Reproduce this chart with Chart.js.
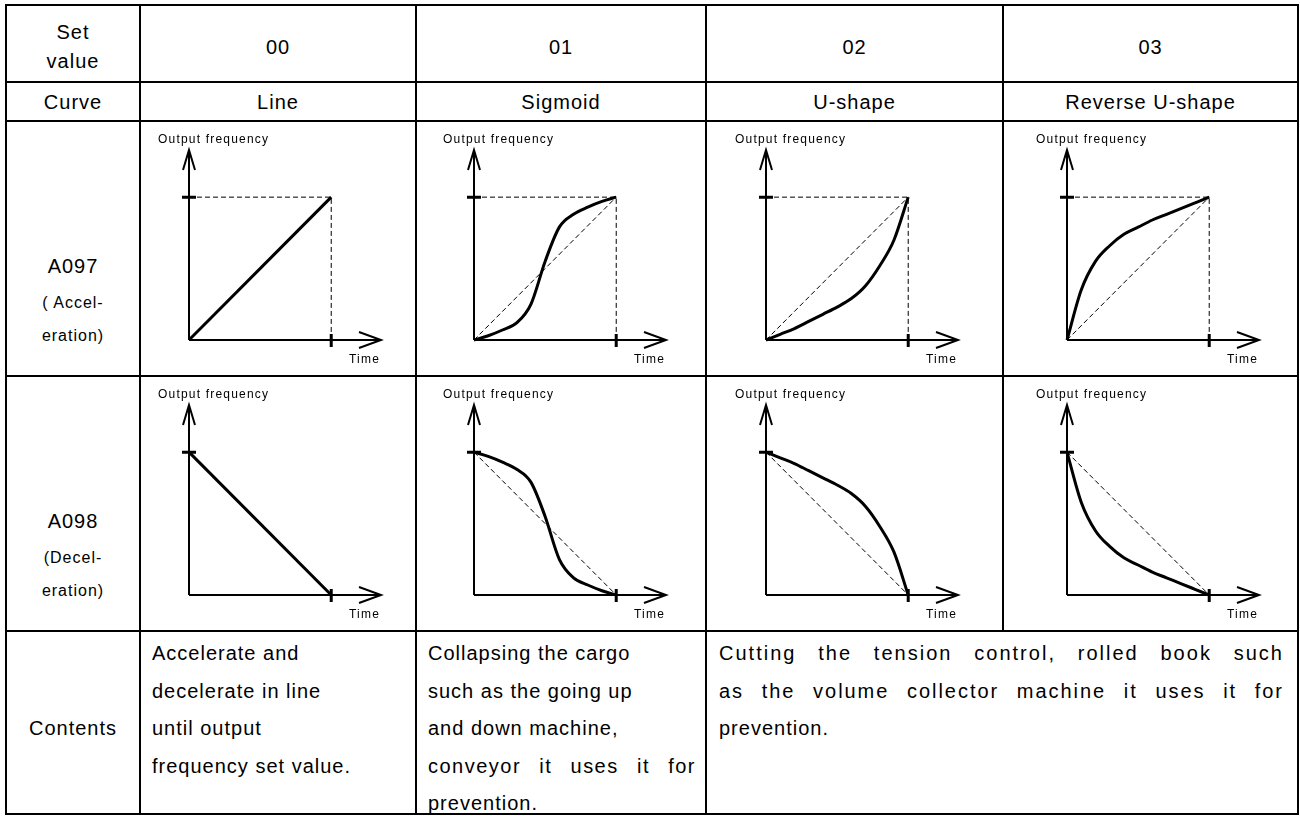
<!DOCTYPE html>
<html>
<head>
<meta charset="utf-8">
<script src="https://cdn.jsdelivr.net/npm/chart.js@4.4.1/dist/chart.umd.min.js"></script>
<style>
  body { margin: 0; background: #fff; width: 1300px; height: 816px; overflow: hidden; position: relative;
         font-family: "Liberation Sans", Arial, sans-serif; color: #000; }
  .box { position: absolute; box-sizing: border-box; border: 2px solid #000; }
  .t { position: absolute; white-space: nowrap; font-size: 20px; letter-spacing: 1px; line-height: 24px; }
  .c { transform: translateX(-50%); }
  .j { text-align: justify; text-align-last: justify; white-space: normal; }
  canvas { position: absolute; }
</style>
</head>
<body>
<script>
// table text
const setValues = ['00', '01', '02', '03'];
const curveNames = ['Line', 'Sigmoid', 'U-shape', 'Reverse U-shape'];

// time axis samples (0 = start, 1 = end of accel/decel time)
const lineTime = [0, 1];
const timeSteps = [0, 0.1, 0.2, 0.3, 0.4, 0.5, 0.6, 0.7, 0.8, 0.9, 1];

// output frequency (fraction of set value)
const lineAccel = [0, 1];
const lineDecel = [1, 0];
const sigmoidAccel = [0, 0.03, 0.07, 0.12, 0.25, 0.55, 0.79, 0.88, 0.93, 0.97, 1];
const sigmoidDecel = [1, 0.97, 0.93, 0.88, 0.79, 0.55, 0.25, 0.12, 0.07, 0.03, 0];
const uShapeAccel = [0, 0.04, 0.08, 0.13, 0.18, 0.23, 0.29, 0.38, 0.52, 0.70, 1];
const uShapeDecel = [1, 0.96, 0.92, 0.87, 0.82, 0.77, 0.71, 0.62, 0.48, 0.30, 0];
const revUAccel = [0, 0.35, 0.55, 0.66, 0.74, 0.79, 0.84, 0.88, 0.92, 0.96, 1];
const revUDecel = [1, 0.65, 0.45, 0.34, 0.26, 0.21, 0.16, 0.12, 0.08, 0.04, 0];

// dashed guides
const guideTime = [0, 1, 1];
const guideAccel = [1, 1, 0];
const diagAccel = [0, 1];
const diagDecel = [1, 0];

// grid lines of the table
const colX = [6, 140, 416, 706, 1003, 1298];
const rowY = [5, 82, 121, 376, 631, 814];
const chartLeft = [49, 58, 60, 64];

function pts(xs, ys) { return xs.map((v, i) => ({ x: v, y: ys[i] })); }

function box(x1, y1, x2, y2) {
  const d = document.createElement('div');
  d.className = 'box';
  d.style.left = (x1 - 1) + 'px'; d.style.top = (y1 - 1) + 'px';
  d.style.width = (x2 - x1 + 2) + 'px'; d.style.height = (y2 - y1 + 2) + 'px';
  document.body.appendChild(d);
}

function text(str, x, y, center, size) {
  const d = document.createElement('div');
  d.className = 't' + (center ? ' c' : '');
  d.textContent = str;
  d.style.left = x + 'px';
  d.style.top = (y - 12) + 'px';
  if (size) d.style.fontSize = size + 'px';
  document.body.appendChild(d);
  return d;
}

// stretch a line to a given width: part by letter spacing, rest by word gaps
function justify(d, width, letterShare) {
  d.style.letterSpacing = '1px';
  const natural = d.getBoundingClientRect().width;
  const extra = Math.max(0, width - natural);
  d.style.letterSpacing = (1 + extra * letterShare / d.textContent.length) + 'px';
  d.classList.add('j');
  d.style.width = width + 'px';
}

// cells
for (let r = 0; r < 5; r++) {
  for (let c = 0; c < 5; c++) {
    if (r === 4 && c === 4) continue;
    const right = (r === 4 && c === 3) ? colX[5] : colX[c + 1];
    box(colX[c], rowY[r], right, rowY[r + 1]);
  }
}

// header rows
text('Set', 73, 32, true);
text('value', 73, 61, true);
text('Curve', 73, 102, true);
setValues.forEach((s, i) => {
  const cx = (colX[i + 1] + colX[i + 2]) / 2;
  text(s, cx, 47, true);
  text(curveNames[i], cx, 102, true);
});

// row labels
text('A097', 73, 266, true);
text('( Accel-', 73, 303, true, 16);
text('eration)', 73, 336, true, 16);
text('A098', 73, 521, true);
text('(Decel-', 73, 558, true, 16);
text('eration)', 73, 591, true, 16);

// contents
const lh = 37.5;
const cTop = 653;
text('Contents', 73, cTop + 2 * lh, true);
['Accelerate and', 'decelerate in line', 'until output', 'frequency set value.']
  .forEach((s, i) => text(s, 152, cTop + i * lh));
['Collapsing the cargo', 'such as the going up', 'and down machine,', 'conveyor it uses it for', 'prevention.']
  .forEach((s, i) => {
    const d = text(s, 428, cTop + i * lh);
    if (i === 3) justify(d, 268, 0.2);
  });
['Cutting the tension control, rolled book such', 'as the volume collector machine it uses it for', 'prevention.']
  .forEach((s, i) => {
    const d = text(s, 719, cTop + i * lh);
    if (i < 2) justify(d, 565, 0.35);
  });

// axis arrows, ticks and axis names drawn from the chart scales
const axesPlugin = {
  id: 'axes',
  afterDatasetsDraw(chart) {
    const { ctx, scales: { x, y } } = chart;
    const x0 = x.getPixelForValue(0), y0 = y.getPixelForValue(0);
    const x1 = x.getPixelForValue(1), y1 = y.getPixelForValue(1);
    const xe = x.getPixelForValue(x.max), ye = y.getPixelForValue(y.max);
    ctx.save();
    ctx.strokeStyle = '#000';
    ctx.lineWidth = 2;
    ctx.beginPath();
    ctx.moveTo(x0, y0); ctx.lineTo(x0, ye);
    ctx.moveTo(x0 - 6, ye + 20); ctx.lineTo(x0, ye); ctx.lineTo(x0 + 6, ye + 20);
    ctx.moveTo(x0, y0); ctx.lineTo(xe, y0);
    ctx.moveTo(xe - 22, y0 - 8); ctx.lineTo(xe, y0); ctx.lineTo(xe - 22, y0 + 8);
    ctx.stroke();
    ctx.lineWidth = 3;
    ctx.beginPath();
    ctx.moveTo(x0 - 7, y1); ctx.lineTo(x0 + 7, y1);
    ctx.moveTo(x1, y0 - 6); ctx.lineTo(x1, y0 + 7);
    ctx.stroke();
    ctx.fillStyle = '#000';
    ctx.font = '12px "Liberation Sans", Arial, sans-serif';
    ctx.letterSpacing = '1.2px';
    ctx.fillText('Output frequency', x0 - 31, ye - 7);
    ctx.fillText('Time', xe - 32, y0 + 23);
    ctx.restore();
  }
};

function dashed(data) {
  return { data, borderColor: '#000', borderWidth: 1, borderDash: [5, 3], pointRadius: 0, clip: false };
}
function solid(data) {
  return { data, borderColor: '#000', borderWidth: 3, pointRadius: 0, cubicInterpolationMode: 'monotone', clip: false };
}

function makeChart(col, row, datasets) {
  const w = colX[col + 2] - colX[col + 1] - 2;
  const h = rowY[row + 1] - rowY[row] - 2;
  const cv = document.createElement('canvas');
  cv.width = w; cv.height = h;
  cv.style.left = (colX[col + 1] + 1) + 'px';
  cv.style.top = (rowY[row] + 1) + 'px';
  document.body.appendChild(cv);
  const left = chartLeft[col] - 1;
  new Chart(cv, {
    type: 'line',
    data: { datasets },
    options: {
      responsive: false,
      animation: false,
      devicePixelRatio: 1,
      layout: { padding: { left, top: 28, right: w - left - 192, bottom: h - 28 - 190 } },
      plugins: { legend: { display: false }, tooltip: { enabled: false } },
      scales: {
        x: { type: 'linear', min: 0, max: 1.35, display: false },
        y: { type: 'linear', min: 0, max: 1.33, display: false }
      }
    },
    plugins: [axesPlugin]
  });
}

// acceleration row
makeChart(0, 2, [dashed(pts(guideTime, guideAccel)), solid(pts(lineTime, lineAccel))]);
makeChart(1, 2, [dashed(pts(guideTime, guideAccel)), dashed(pts(lineTime, diagAccel)), solid(pts(timeSteps, sigmoidAccel))]);
makeChart(2, 2, [dashed(pts(guideTime, guideAccel)), dashed(pts(lineTime, diagAccel)), solid(pts(timeSteps, uShapeAccel))]);
makeChart(3, 2, [dashed(pts(guideTime, guideAccel)), dashed(pts(lineTime, diagAccel)), solid(pts(timeSteps, revUAccel))]);
// deceleration row
makeChart(0, 3, [solid(pts(lineTime, lineDecel))]);
makeChart(1, 3, [dashed(pts(lineTime, diagDecel)), solid(pts(timeSteps, sigmoidDecel))]);
makeChart(2, 3, [dashed(pts(lineTime, diagDecel)), solid(pts(timeSteps, uShapeDecel))]);
makeChart(3, 3, [dashed(pts(lineTime, diagDecel)), solid(pts(timeSteps, revUDecel))]);
</script>
</body>
</html>
